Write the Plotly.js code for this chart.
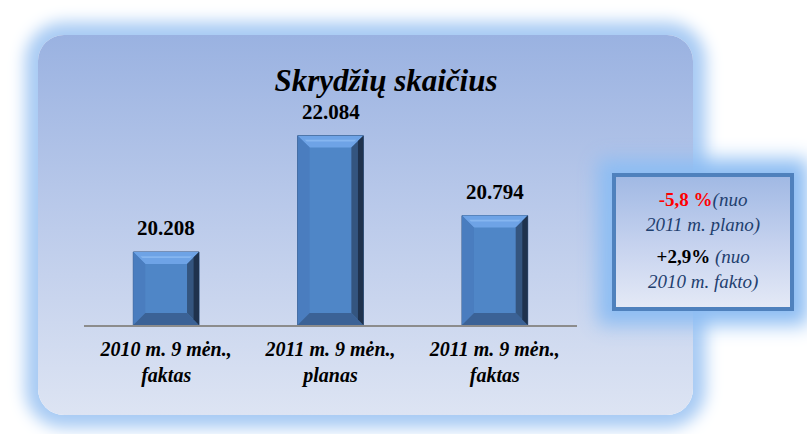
<!DOCTYPE html>
<html>
<head>
<meta charset="utf-8">
<script src="https://cdn.plot.ly/plotly-3.0.1.min.js"></script>
<style>
  html, body { margin: 0; padding: 0; background: #ffffff; }
  #wrap { position: relative; width: 807px; height: 434px; overflow: hidden; background: #ffffff; }
  #panel {
    position: absolute; left: 38px; top: 35px; width: 655px; height: 380px;
    border-radius: 26px;
    background: linear-gradient(to bottom, #9ab2e1 0%, #b9c9ea 45%, #dde4f3 100%);
    box-shadow: 0 0 16px 13px #a8cbf4;
  }
  #callout {
    position: absolute; left: 612px; top: 173px; width: 174px; height: 130px;
    border: 4px solid #4f81bd;
    background: linear-gradient(to bottom, #a1b9e4 0%, #c4d1ee 50%, #e4e9f6 100%);
    box-shadow: 0 0 18px 14px #8dbdf3;
  }
  #chart { position: absolute; left: 0; top: 0; width: 807px; height: 434px; }
</style>
</head>
<body>
<div id="wrap">
  <div id="panel"></div>
  <div id="callout"></div>
  <div id="chart"></div>
</div>
<script>
// ---- data ----
const categories = ["2010 m. 9 mėn.,<br>faktas", "2011 m. 9 mėn.,<br>planas", "2011 m. 9 mėn.,<br>faktas"];
const values = [20208, 22084, 20794];
const chartTitle = "Skrydžių skaičius";
const calloutLine1 = ["-5,8 %", "(nuo<br>2011 m. plano)"];
const calloutLine2 = ["+2,9%", " (nuo<br>2010 m. fakto)"];

// ---- layout geometry ----
const W = 807, H = 434;
const M = {l: 84, r: 230, t: 90, b: 108.5};
const plotW = W - M.l - M.r, plotH = H - M.t - M.b;
const yMin = 19030, yMax = 22820;
const xMin = -0.5, xMax = 2.5;
const barW = 0.4;

function fmt(v) { return String(v).replace(/\B(?=(\d{3})+(?!\d))/g, "."); }
function pxToPaperX(px) { return (px - M.l) / plotW; }
function pxToPaperY(py) { return (H - M.b - py) / plotH; }

const xs = values.map((v, i) => i);
const serif = "Times New Roman";

const traces = [{
  type: "bar",
  x: xs,
  y: values,
  width: barW,
  marker: { color: "#4f86c7", line: { color: "#3a5d8c", width: 1 } },
  hoverinfo: "none"
}];

// bevel shapes derived from the data
const bevelPx = 12;
const bx = bevelPx * (xMax - xMin) / plotW;
const by = bevelPx * (yMax - yMin) / plotH;
const shapes = [];
function poly(pts, color) {
  const d = "M " + pts.map(p => p[0] + "," + p[1]).join(" L ") + " Z";
  shapes.push({ type: "path", xref: "x", yref: "y", path: d, fillcolor: color, line: { width: 0 }, layer: "above" });
}
xs.forEach((x, i) => {
  const v = values[i], b = yMin;
  const x0 = x - barW / 2, x1 = x + barW / 2;
  // top
  poly([[x0, v], [x1, v], [x1 - bx, v - by], [x0 + bx, v - by]], "#6ea3e6");
  poly([[x0 + bx*0.6, v - by*0.35], [x1 - bx*0.6, v - by*0.35], [x1 - bx*0.75, v - by*0.5], [x0 + bx*0.75, v - by*0.5]], "#86b6f0");
  // left
  poly([[x0, v], [x0, b], [x0 + bx, b + by], [x0 + bx, v - by]], "#4a7dbf");
  // bottom
  poly([[x0, b], [x1, b], [x1 - bx, b + by], [x0 + bx, b + by]], "#3b6296");
  // right (two tones)
  poly([[x1, v], [x1, b], [x1 - bx, b + by], [x1 - bx, v - by]], "#34557f");
  poly([[x1, v], [x1, b], [x1 - bx*0.45, b + by*0.45], [x1 - bx*0.45, v - by*0.45]], "#1f324d");
});

const annotations = values.map((v, i) => ({
  x: xs[i], y: v, xref: "x", yref: "y",
  text: "<b>" + fmt(v) + "</b>", showarrow: false, yanchor: "middle", yshift: 24,
  font: { family: serif, size: 21, color: "#000000" }
}));

annotations.push({
  xref: "paper", yref: "paper", x: pxToPaperX(703), y: pxToPaperY(212.5),
  xanchor: "center", yanchor: "middle", showarrow: false, align: "center",
  text: '<b><span style="color:#ff0000">' + calloutLine1[0] + '</span></b><i>' + calloutLine1[1].replace("<br>", "</i><br><i>") + '</i>',
  font: { family: serif, size: 19, color: "#1f406f" }
});
annotations.push({
  xref: "paper", yref: "paper", x: pxToPaperX(703), y: pxToPaperY(269.5),
  xanchor: "center", yanchor: "middle", showarrow: false, align: "center",
  text: '<b><span style="color:#000000">' + calloutLine2[0] + '</span></b><i>' + calloutLine2[1].replace("<br>", "</i><br><i>") + '</i>',
  font: { family: serif, size: 19, color: "#1f406f" }
});

const layout = {
  width: W, height: H,
  margin: M,
  paper_bgcolor: "rgba(0,0,0,0)",
  plot_bgcolor: "rgba(0,0,0,0)",
  showlegend: false,
  font: { family: serif },
  title: {
    text: "<b><i>" + chartTitle + "</i></b>",
    x: 386 / W, xref: "container", xanchor: "center",
    y: 1 - 80 / H, yref: "container", yanchor: "middle",
    font: { family: serif, size: 31, color: "#000000" }
  },
  xaxis: {
    range: [xMin, xMax],
    tickvals: xs, ticktext: categories.map(c => "<b><i>" + c.replace("<br>", "</i></b><br><b><i>") + "</i></b>"),
    showgrid: false, zeroline: false,
    showline: true, linecolor: "#8c8c8c", linewidth: 2,
    ticks: "", ticklabelstandoff: 5,
    tickfont: { family: serif, size: 20, color: "#000000" },
    fixedrange: true
  },
  yaxis: {
    range: [yMin, yMax],
    visible: false,
    showgrid: false, zeroline: false,
    fixedrange: true
  },
  shapes: shapes,
  annotations: annotations
};

Plotly.newPlot("chart", traces, layout, { staticPlot: true, displayModeBar: false });
</script>
</body>
</html>
